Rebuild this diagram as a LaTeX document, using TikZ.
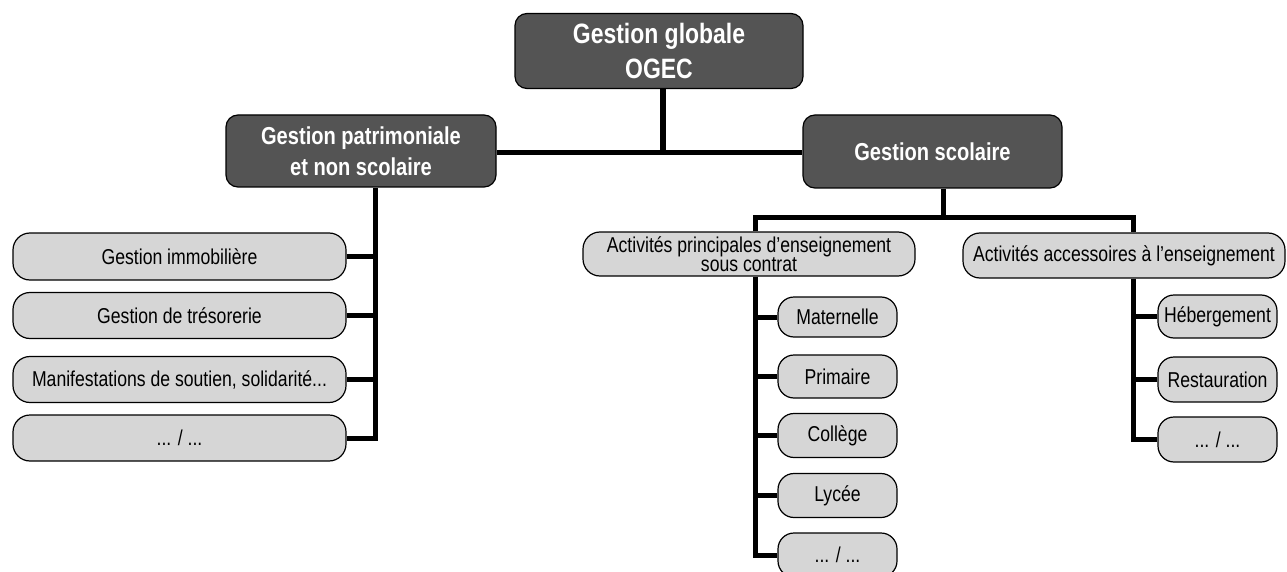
\documentclass[tikz,border=0pt]{standalone}
\usepackage{fontspec}
\setmainfont{Liberation Sans}[FakeStretch=0.82]
\definecolor{darkbox}{HTML}{545454}
\definecolor{lightbox}{HTML}{D6D6D6}
\begin{document}
\begin{tikzpicture}[x=1pt,y=-1pt,
  darknode/.style={draw=black,line width=1.2pt,fill=darkbox,rounded corners=12pt,text=white,align=center,inner sep=0pt,font=\bfseries},
  lightnode/.style={draw=black,line width=1.2pt,fill=lightbox,rounded corners=17pt,align=center,inner sep=0pt,font=\fontsize{21.5}{16}\selectfont},
  subnode/.style={lightnode,minimum width=119pt,rounded corners=16pt},
  conn/.style={line width=5pt,black},
]
\useasboundingbox (0,0) rectangle (1287,572);
% top
\node[darknode,minimum width=288pt,minimum height=75pt,font=\bfseries\fontsize{28}{35}\selectfont] (top) at (659,51) {Gestion globale\\OGEC};
\node[darknode,minimum width=270pt,minimum height=72pt,font=\bfseries\fontsize{24.5}{31}\selectfont] (ld) at (361,151) {Gestion patrimoniale\\et non scolaire};
\node[darknode,minimum width=259pt,minimum height=73pt,font=\bfseries\fontsize{24.5}{31}\selectfont] (rd) at (932.5,151.5) {Gestion scolaire};
% left items
\node[lightnode,minimum width=333pt,minimum height=47pt] (l1) at (179.5,256.5) {Gestion immobilière};
\node[lightnode,minimum width=333pt,minimum height=46pt] (l2) at (179.5,315.5) {Gestion de trésorerie};
\node[lightnode,minimum width=333pt,minimum height=46pt] (l3) at (179.5,379.5) {Manifestations de soutien, solidarité...};
\node[lightnode,minimum width=333pt,minimum height=46pt] (l4) at (179.5,438) {... / ...};
% middle
\node[lightnode,minimum width=332pt,minimum height=44pt] (ap) at (749,254) {Activités principales d'enseignement\\sous contrat};
\node[subnode,minimum height=40pt] (m1) at (837.5,317) {Maternelle};
\node[subnode,minimum height=43pt] (m2) at (837.5,376.5) {Primaire};
\node[subnode,minimum height=44pt] (m3) at (837.5,435.5) {Collège};
\node[subnode,minimum height=44pt] (m4) at (837.5,495.5) {Lycée};
\node[subnode,minimum height=44pt] (m5) at (837.5,555) {... / ...};
% right
\node[lightnode,minimum width=322pt,minimum height=45pt] (aa) at (1124,255.5) {Activités accessoires à l'enseignement};
\node[subnode,minimum height=43pt] (r1) at (1217.5,316.5) {Hébergement};
\node[subnode,minimum height=45pt] (r2) at (1217.5,379.5) {Restauration};
\node[subnode,minimum height=45pt] (r3) at (1217.5,439.5) {... / ...};
% connector coordinates
\coordinate (tj) at (663,153);
\coordinate (sL) at (375,188);
\coordinate (sR) at (943,217);
\coordinate (bL) at (755,217);
\coordinate (bR) at (1133,217);
% connectors
\draw[conn,line width=6pt] (top.south -| tj) -- (tj);
\draw[conn] (ld.east |- tj) -- (rd.west |- tj);
\draw[conn] (sL) |- (l4.east);
\draw[conn] (l1.east) -- (l1.east -| sL);
\draw[conn] (l2.east) -- (l2.east -| sL);
\draw[conn] (l3.east) -- (l3.east -| sL);
\draw[conn] (rd.south -| sR) -- (sR);
\draw[conn] (ap.north -| bL) |- (bR) -- (aa.north -| bR);
\draw[conn] (ap.south -| bL) |- (m5.west);
\draw[conn] (m1.west) -- (m1.west -| bL);
\draw[conn] (m2.west) -- (m2.west -| bL);
\draw[conn] (m3.west) -- (m3.west -| bL);
\draw[conn] (m4.west) -- (m4.west -| bL);
\draw[conn] (aa.south -| bR) |- (r3.west);
\draw[conn] (r1.west) -- (r1.west -| bR);
\draw[conn] (r2.west) -- (r2.west -| bR);
\end{tikzpicture}
\end{document}
